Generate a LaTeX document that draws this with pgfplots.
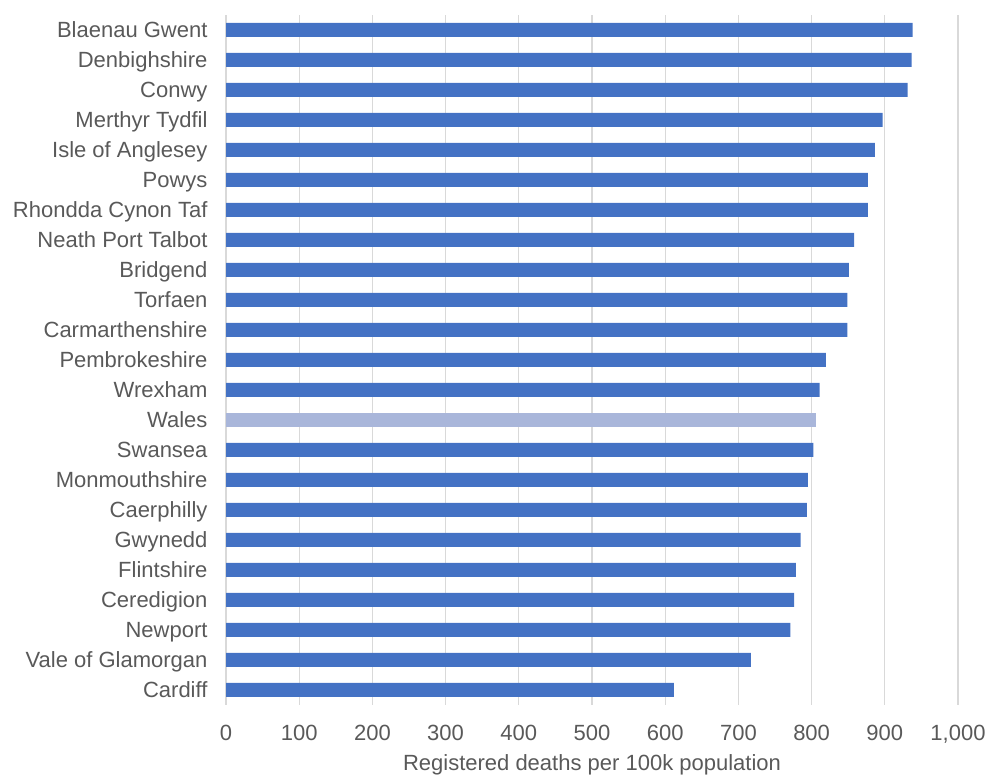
\documentclass[border=0pt]{standalone}
\usepackage{fontspec}
\setmainfont{Liberation Sans}
\usepackage{pgfplots}
\pgfplotsset{compat=1.18}
\definecolor{barblue}{HTML}{4472C4}
\definecolor{walesblue}{HTML}{A9B6DA}
\definecolor{txt}{HTML}{595959}
\definecolor{gridc}{HTML}{D9D9D9}
\begin{document}
\begin{tikzpicture}
\useasboundingbox (0,0) rectangle (990pt,775pt);
\begin{axis}[
  at={(226pt,70pt)}, anchor=south west,
  scale only axis,
  width=732pt, height=690pt,
  xmin=0, xmax=1000,
  ymin=-0.5, ymax=22.5,
  xbar, bar width=14pt, bar shift=0pt,
  xtick={0,100,...,1000},
  ytick={0,...,22},
  yticklabels={Cardiff,Vale of Glamorgan,Newport,Ceredigion,Flintshire,Gwynedd,Caerphilly,Monmouthshire,Swansea,Wales,Wrexham,Pembrokeshire,Carmarthenshire,Torfaen,Bridgend,Neath Port Talbot,Rhondda Cynon Taf,Powys,Isle of Anglesey,Merthyr Tydfil,Conwy,Denbighshire,Blaenau Gwent},
  xmajorgrids,
  grid style={gridc, line width=1.3pt},
  axis line style={draw=none},
  major tick length=0pt,
  tick label style={font=\fontsize{22pt}{25pt}\selectfont, text=txt},
  yticklabel style={anchor=east, xshift=-15pt, text height=15.8pt, text depth=0pt},
  xticklabel style={yshift=-17pt},
  /pgf/number format/assume math mode=true,
  /pgf/number format/1000 sep={,},
  xlabel={Registered deaths per 100k population},
  xlabel style={font=\fontsize{22pt}{25pt}\selectfont, text=txt, yshift=-4pt},
  clip=false,
]
\addplot[fill=barblue, draw=none] coordinates {
 (612,0) (717,1) (771,2) (776,3) (778.5,4) (785,5) (793.5,6) (795,7) (802.5,8)
 (811,10) (819.5,11) (849,12) (849,13) (851,14) (858,15) (877,16) (877,17)
 (886.5,18) (897,19) (931,20) (936.5,21) (938,22)
};
\addplot[fill=walesblue, draw=none] coordinates {(806,9)};
\end{axis}
\end{tikzpicture}
\end{document}
